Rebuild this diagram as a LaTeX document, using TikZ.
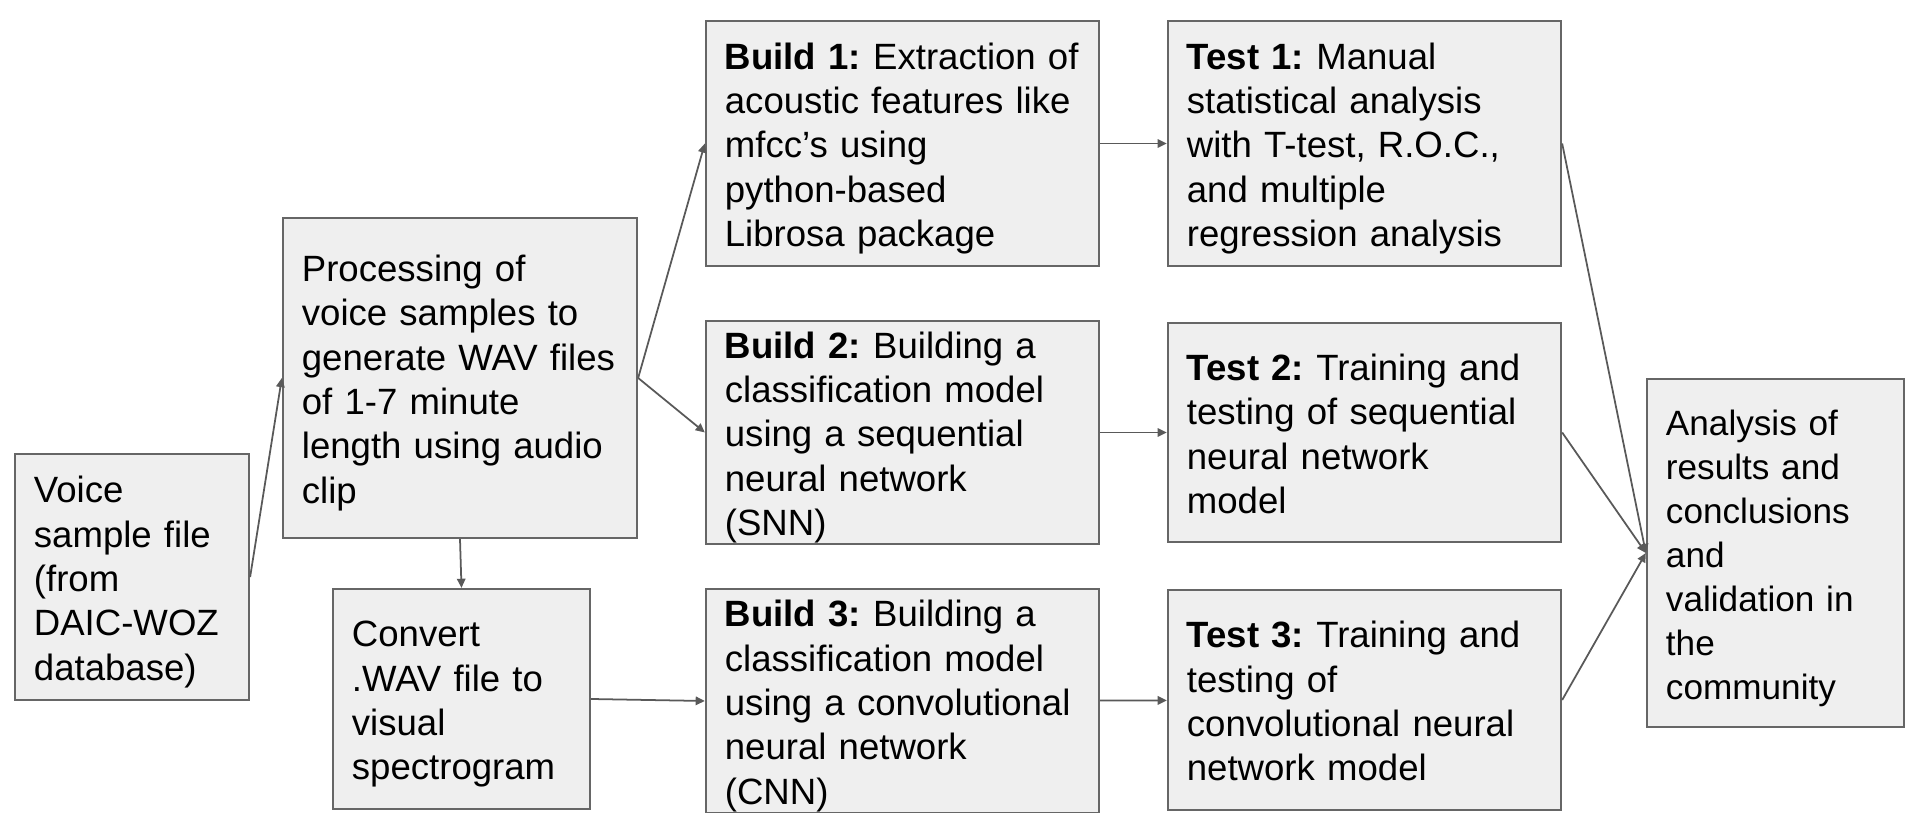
\documentclass[tikz,border=0pt]{standalone}
\usepackage{fontspec}
\setmainfont{Liberation Sans}
\usepackage{xcolor}
\usepackage{tikz}
\usetikzlibrary{arrows.meta, positioning}
\definecolor{boxfill}{RGB}{239,239,239}
\definecolor{boxline}{RGB}{102,102,102}
\definecolor{arrowgray}{RGB}{89,89,89}
\tikzset{
    box/.style={rectangle, draw=boxline, fill=boxfill, line width=0.6pt, inner xsep=0.19cm, inner ysep=0pt, align=left, font=\fontsize{10.4}{12.6}\selectfont\frenchspacing,
        execute at begin node={\rule{0pt}{10.7pt}}, execute at end node={\rule[-2.5pt]{0pt}{2.5pt}}},
    stagebox/.style={box, text width=3.55cm, minimum width=3.93cm},
    sidebox/.style={box, text width=2.19cm, minimum width=2.57cm},
    flow/.style={-{Triangle[length=2.6pt,width=2.4pt]}, draw=arrowgray, line width=0.5pt}
}
\begin{document}
\begin{tikzpicture}[x=0.01cm, y=-0.01cm]
    \useasboundingbox (0,0) rectangle (1905,813);

    % Input and preprocessing
    \node[box, text width=1.96cm, minimum width=2.34cm, minimum height=2.46cm] (voice) at (132,577) {Voice\\sample file\\(from\\DAIC-WOZ\\database)};
    \node[box, text width=3.16cm, minimum width=3.54cm, minimum height=3.2cm] (proc) at (460,378) {Processing of\\voice samples to\\generate WAV files\\of 1-7 minute\\length using audio\\clip};
    \node[sidebox, minimum height=2.2cm] (convert) at (461.5,699) {Convert\\.WAV file to\\visual\\spectrogram};

    % Build stages
    \node[stagebox, minimum height=2.45cm] (build1) at (902.5,143.5) {\textbf{Build 1:} Extraction of\\acoustic features like\\mfcc’s using\\python-based\\Librosa package};
    \node[stagebox, minimum height=2.19cm] (build2) at (902.5,432.5) {\textbf{Build 2:} Building a\\classification model\\using a sequential\\neural network\\(SNN)};
    \node[stagebox, minimum height=2.22cm] (build3) at (902.5,701) {\textbf{Build 3:} Building a\\classification model\\using a convolutional\\neural network\\(CNN)};

    % Test stages
    \node[stagebox, minimum height=2.45cm] (test1) at (1364.5,143.5) {\textbf{Test 1:} Manual\\statistical analysis\\with T-test, R.O.C.,\\and multiple\\regression analysis};
    \node[stagebox, minimum height=2.19cm] (test2) at (1364.5,432.5) {\textbf{Test 2:} Training and\\testing of sequential\\neural network\\model};
    \node[stagebox, minimum height=2.2cm] (test3) at (1364.5,700) {\textbf{Test 3:} Training and\\testing of\\convolutional neural\\network model};

    % Results
    \node[sidebox, minimum height=3.48cm, font=\fontsize{10}{12.5}\selectfont] (analysis) at (1775.5,553) {Analysis of\\results and\\conclusions\\and\\validation in\\the\\community};

    % Connections
    \draw[flow] (voice.east) -- (proc.west);
    \draw[flow] (proc.east) -- (build1.west);
    \draw[flow] (proc.east) -- (build2.west);
    \draw[flow] (proc.south) -- (convert.north);
    \draw[flow] (convert.east) -- (build3.west);
    \draw[flow] (build1) -- (test1);
    \draw[flow] (build2) -- (test2);
    \draw[flow] (build3) -- (test3);
    \draw[flow] (test1.east) -- (analysis.west);
    \draw[flow] (test2.east) -- (analysis.west);
    \draw[flow] (test3.east) -- (analysis.west);
\end{tikzpicture}
\end{document}
